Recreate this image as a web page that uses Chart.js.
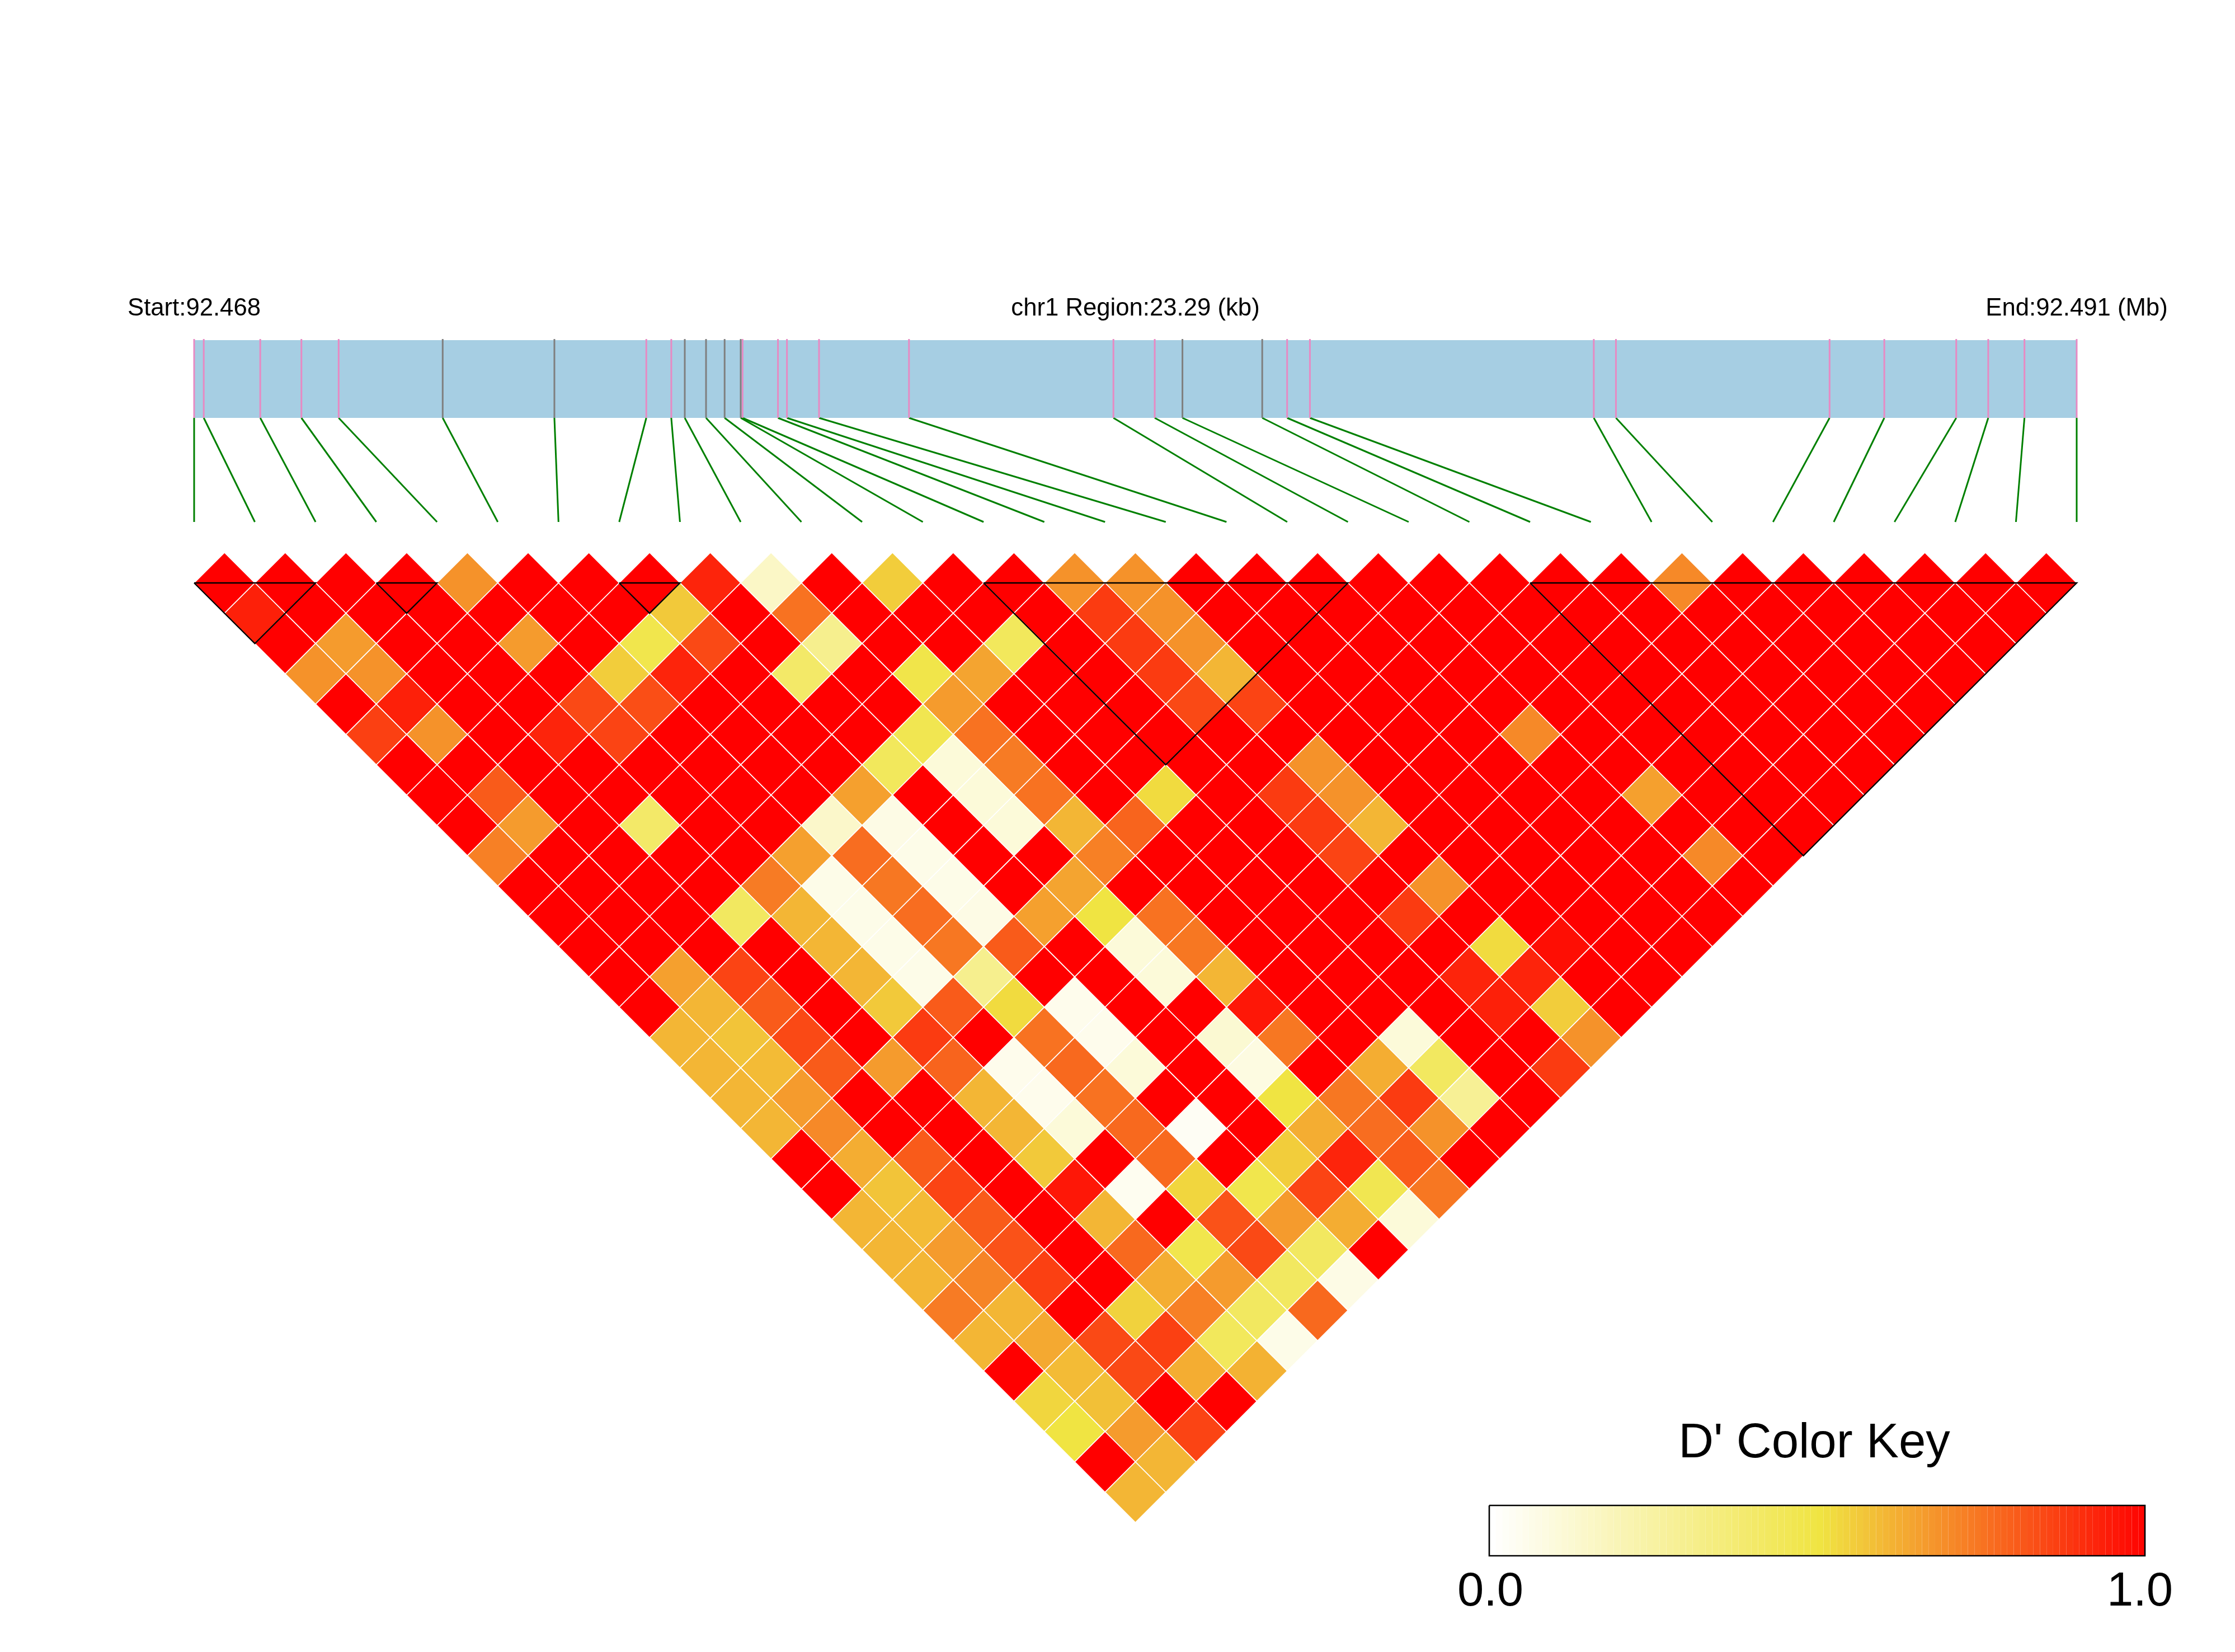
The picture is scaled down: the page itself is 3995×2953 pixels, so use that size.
<!DOCTYPE html>
<html>
<head>
<meta charset="utf-8">
<title>LD heatmap</title>
<style>
  html, body { margin: 0; padding: 0; background: #fff; }
  canvas { display: block; }
</style>
<script src="https://cdn.jsdelivr.net/npm/chart.js@4/dist/chart.umd.min.js"></script>
</head>
<body>
<canvas id="ld" width="3995" height="2953"></canvas>
<script>
// SNP positions in kb from the region start
const snpKb = [0, 0.119, 0.818, 1.327, 1.788, 3.075, 4.457, 5.594, 5.903, 6.07, 6.333, 6.563, 6.762, 6.785, 7.223, 7.334,
  7.731, 8.844, 11.373, 11.884, 12.227, 13.214, 13.522, 13.804, 17.316, 17.59, 20.233, 20.91, 21.8, 22.196, 22.644, 23.29];
// 1 = pink tick on the band, 0 = grey tick
const snpPink = [1, 1, 1, 1, 1, 0, 0, 1, 1, 0, 0, 0, 0, 1, 1, 1, 1, 1, 1, 1, 0, 0, 1, 1, 1, 1, 1, 1, 1, 1, 1, 1];

// D' by distance between SNPs: dist1 = neighbours, dist2 = one SNP apart...
const dist1 = [1, 1, 1, 1, .68, 1, 1, 1, .92, .15, 1, .55, 1, 1, .68, .68, 1, 1, 1, 1, 1, 1, 1, 1, .7, 1, 1, 1, 1, 1, 1];
const dist2 = [.93, 1, 1, 1, 1, 1, 1, .56, 1, .75, 1, 1, 1, 1, .87, .68, 1, 1, 1, 1, 1, 1, 1, 1, 1, 1, 1, 1, 1, 1];
const dist3 = [1, .66, 1, 1, .66, 1, .47, .84, 1, .3, 1, 1, .43, 1, .87, .68, 1, 1, 1, 1, 1, 1, 1, 1, 1, 1, 1, 1, 1];
const dist4 = [.68, .68, 1, 1, 1, .55, .92, 1, .4, 1, .48, .64, 1, 1, .87, .6, 1, 1, 1, 1, 1, 1, 1, 1, 1, 1, 1, 1];
const dist5 = [1, .93, 1, 1, .84, .83, 1, 1, 1, 1, .66, 1, 1, 1, .84, .85, 1, 1, 1, 1, 1, 1, 1, 1, 1, 1, 1];
const dist6 = [.86, .68, 1, .92, .85, 1, 1, 1, 1, .46, .75, 1, 1, 1, 1, 1, 1, 1, 1, .7, 1, 1, 1, 1, 1, 1];
const dist7 = [1, 1, 1, 1, 1, 1, 1, 1, .43, .1, .73, 1, 1, 1, 1, .68, 1, 1, 1, 1, 1, 1, 1, 1, 1];
const dist8 = [1, .8, 1, 1, 1, 1, 1, .65, 1, .1, .75, 1, .52, 1, .87, .68, 1, 1, 1, 1, .65, 1, 1, 1];
const dist9 = [1, .66, 1, .4, 1, 1, .14, .07, 1, .1, .6, .78, 1, 1, .87, .6, 1, 1, 1, 1, 1, 1, 1];
const dist10 = [.72, 1, 1, 1, 1, .65, .76, .06, 1, 1, .72, 1, 1, 1, .85, 1, 1, 1, 1, 1, .7, 1];
const dist11 = [1, 1, 1, 1, .73, .06, .74, .06, 1, .64, 1, 1, 1, 1, 1, .68, 1, 1, 1, 1, 1];
const dist12 = [1, 1, 1, .42, .6, .06, .76, .07, .65, .5, .75, 1, 1, 1, .87, 1, 1, 1, 1, 1];
const dist13 = [1, 1, 1, 1, .6, .06, .74, .8, 1, .1, .74, 1, 1, 1, 1, .52, .97, 1, 1];
const dist14 = [1, .65, .85, 1, .6, .06, .3, 1, 1, .1, .6, 1, 1, 1, .92, .92, 1, 1];
const dist15 = [1, .6, .8, 1, .56, .8, .52, .05, 1, 1, .95, 1, 1, 1, .93, .55, 1];
const dist16 = [.6, .57, .84, 1, .87, 1, .75, .05, 1, .12, .74, 1, .1, 1, 1, .68];
const dist17 = [.6, .59, .8, .66, .78, .05, .77, .1, 1, .08, 1, .62, .42, 1, .87];
const dist18 = [.6, .66, 1, 1, .6, .05, .75, 1, 1, .5, .74, .87, .28, 1];
const dist19 = [.6, .7, 1, 1, .6, .1, .77, .03, 1, .62, .76, .68, 1];
const dist20 = [1, .62, .8, 1, .56, 1, .77, 1, .55, .92, .8, 1];
const dist21 = [1, .57, .85, 1, .95, .04, .53, .47, .85, .46, .74];
const dist22 = [.6, .59, .8, 1, .6, 1, .82, .66, .62, .1];
const dist23 = [.6, .66, .82, 1, .77, .47, .84, .42, 1];
const dist24 = [.6, .71, .86, 1, .62, .66, .42, .07];
const dist25 = [.73, .6, 1, .54, .72, .42, .77];
const dist26 = [.6, .63, .84, .86, .43, .06];
const dist27 = [1, .59, .84, .62, .61];
const dist28 = [.53, .58, 1, 1];
const dist29 = [.5, .66, .85];
const dist30 = [1, .6];
const dist31 = [.6];
const distances = [dist1, dist2, dist3, dist4, dist5, dist6, dist7, dist8, dist9, dist10, dist11, dist12, dist13, dist14, dist15,
  dist16, dist17, dist18, dist19, dist20, dist21, dist22, dist23, dist24, dist25, dist26, dist27, dist28, dist29, dist30, dist31];

// LD blocks, first and last SNP
const blockStart = [0, 3, 7, 13, 22];
const blockEnd = [2, 4, 8, 19, 31];

const regionKb = 23.29;
const startLabel = "Start:92.468";
const midLabel = "chr1 Region:23.29 (kb)";
const endLabel = "End:92.491 (Mb)";
const keyTitle = "D' Color Key";
const keyMinLabel = "0.0";
const keyMaxLabel = "1.0";

// page layout in pixels
const W = 3995, H = 2953;
const plotLeft = 347, plotRight = 3712, plotTop = 1042, rowH = 54.18;
const snpStep = (plotRight - plotLeft) / (snpKb.length - 1);

// helpers: everything goes through the x (SNP index) and y (rows below the top) scales
const rowOf = (py) => (py - plotTop) / rowH;
const idxOf = (px) => (px - plotLeft) / snpStep;
const kbToIdx = (kb) => (kb / regionKb) * (snpKb.length - 1);

const bandTop = rowOf(608), bandBottom = rowOf(747), linkBottom = rowOf(933);
const keyLeft = idxOf(2662), keyRight = idxOf(3834), keyTop = rowOf(2691), keyBottom = rowOf(2781);
const keyToIdx = (v) => keyLeft + v * (keyRight - keyLeft);

const mix = (a, b, t) => a.map((c, n) => Math.round(c + (b[n] - c) * t));
const ramp = (v) => {
  const white = [255, 255, 255], yellow = [240, 228, 66], red = [255, 0, 0];
  const rgb = v < 0.5 ? mix(white, yellow, v / 0.5) : mix(yellow, red, (v - 0.5) / 0.5);
  return `rgb(${rgb[0]}, ${rgb[1]}, ${rgb[2]})`;
};

const lineSet = (data, color, width, order) => ({
  type: "scatter",
  data: data,
  showLine: true,
  borderColor: color,
  borderWidth: width,
  borderCapStyle: "butt",
  pointRadius: 0,
  tension: 0,
  order: order,
  clip: false
});

// the heatmap cells
const cells = [];
distances.forEach((row, d) => {
  row.forEach((value, i) => {
    cells.push({ x: i + (d + 1) / 2, y: d, value: value });
  });
});

const datasets = [];

// blue band
datasets.push(lineSet([{ x: 0, y: (bandTop + bandBottom) / 2 }, { x: snpKb.length - 1, y: (bandTop + bandBottom) / 2 }],
  "#a6cee3", (bandBottom - bandTop) * rowH, 9));

// ticks on the band and the green links down to the cells
snpKb.forEach((kb, i) => {
  const x = kbToIdx(kb);
  datasets.push(lineSet([{ x: x, y: rowOf(606) }, { x: x, y: bandBottom }], snpPink[i] ? "#e78ac3" : "#7f7f7f", 3, 8));
  datasets.push(lineSet([{ x: x, y: bandBottom }, { x: i, y: linkBottom }], "#008000", 3, 8));
});

datasets.push({
  type: "scatter",
  data: cells,
  pointStyle: "rectRot",
  pointRadius: snpStep / 2,
  pointBackgroundColor: cells.map((c) => ramp(c.value)),
  pointBorderColor: "#ffffff",
  pointBorderWidth: 1.7,
  order: 5,
  clip: false
});

// black outlines of the blocks
blockStart.forEach((a, n) => {
  const b = blockEnd[n];
  datasets.push(lineSet([{ x: a, y: 0 }, { x: b, y: 0 }, { x: (a + b) / 2, y: b - a }, { x: a, y: 0 }], "#000000", 2.4, 2));
});

// color key, one short step per colour
const keySteps = [];
for (let s = 0; s <= 100; s++) keySteps.push(s / 100);
const keyMid = (keyTop + keyBottom) / 2;
const keyBar = lineSet(keySteps.map((v) => ({ x: keyToIdx(v), y: keyMid })), "#ffffff", (keyBottom - keyTop) * rowH, 4);
keyBar.segment = { borderColor: (c) => ramp(keySteps[c.p0DataIndex]) };
datasets.push(keyBar);
datasets.push(lineSet([
  { x: keyToIdx(0), y: keyTop }, { x: keyToIdx(1), y: keyTop }, { x: keyToIdx(1), y: keyBottom },
  { x: keyToIdx(0), y: keyBottom }, { x: keyToIdx(0), y: keyTop }
], "#000000", 2.6, 3));

const labelsPlugin = {
  id: "labels",
  afterDatasetsDraw(chart) {
    const { ctx, scales } = chart;
    const put = (text, x, py, size) => {
      ctx.font = `${size}px "Liberation Sans", Arial, sans-serif`;
      ctx.fillText(text, scales.x.getPixelForValue(x), scales.y.getPixelForValue(rowOf(py)));
    };
    ctx.save();
    ctx.fillStyle = "#000";
    ctx.textAlign = "center";
    ctx.textBaseline = "alphabetic";
    put(startLabel, 0, 564, 43.7);
    put(midLabel, (snpKb.length - 1) / 2, 564, 43.7);
    put(endLabel, snpKb.length - 1, 564, 43.7);
    put(keyTitle, keyToIdx(0.5) - idxOf(5) + idxOf(0), 2605, 87);
    put(keyMinLabel, keyToIdx(0) + 2 / snpStep, 2870, 85);
    put(keyMaxLabel, keyToIdx(1) - 9 / snpStep, 2870, 85);
    ctx.restore();
  }
};

new Chart(document.getElementById("ld"), {
  type: "scatter",
  data: { datasets: datasets },
  plugins: [labelsPlugin],
  options: {
    responsive: false,
    animation: false,
    devicePixelRatio: 1,
    events: [],
    layout: { autoPadding: false, padding: 0 },
    plugins: { legend: { display: false }, tooltip: { enabled: false } },
    scales: {
      x: { type: "linear", display: false, min: idxOf(0), max: idxOf(W) },
      y: { type: "linear", display: false, reverse: true, min: rowOf(0), max: rowOf(H) }
    }
  }
});
</script>
</body>
</html>
